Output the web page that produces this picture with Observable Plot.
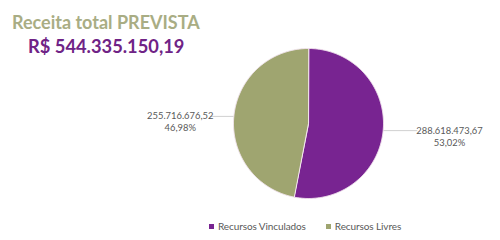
<!DOCTYPE html>
<html><head><meta charset="utf-8">
<script src="https://cdn.jsdelivr.net/npm/d3@7"></script>
<script src="https://cdn.jsdelivr.net/npm/@observablehq/plot@0.6"></script>
<style>
body{margin:0;background:#fff;}
#wrap{position:relative;width:500px;height:240px;overflow:hidden;font-family:Lato,"Open Sans",sans-serif;}
#t1{position:absolute;left:12px;top:11px;font-size:18px;font-weight:bold;color:#a9ad84;white-space:nowrap;}
#t2{position:absolute;left:28px;top:35px;font-size:18.3px;font-weight:bold;color:#6f2386;white-space:nowrap;}
#leg{position:absolute;left:209px;top:220px;font-size:10px;letter-spacing:-0.1px;color:#595959;white-space:nowrap;display:flex;gap:20px;}
#leg span.sw{display:inline-block;width:5px;height:5px;margin-right:4px;vertical-align:1px;}
#chart{position:absolute;left:0;top:0;}
</style></head>
<body><div id="wrap"><div id="chart"></div><div id="t1"></div><div id="t2"></div><div id="leg"></div></div>
<script>
const titleText = "Receita total PREVISTA";
const totalText = "R$ 544.335.150,19";
const categories = ["Recursos Vinculados", "Recursos Livres"];
const values = [288618473.67, 255716676.52];
const valueLabels = ["288.618.473,67", "255.716.676,52"];
const percentLabels = ["53,02%", "46,98%"];
const colors = ["#782491", "#9fa570"];

document.getElementById("t1").textContent = titleText;
document.getElementById("t2").textContent = totalText;
const leg = document.getElementById("leg");
categories.forEach((c, i) => {
  const d = document.createElement("div");
  d.innerHTML = `<span class="sw" style="background:${colors[i]}"></span>${c}`;
  leg.appendChild(d);
});

const arcs = d3.pie().sort(null).value(d => d.value)(categories.map((c, i) => ({key: c, value: values[i], i})));
const poly = [];
arcs.forEach(a => {
  const n = Math.max(2, Math.ceil((a.endAngle - a.startAngle) / 0.01));
  poly.push({key: a.data.key, x: 0, y: 0});
  for (let k = 0; k <= n; k++) {
    const t = a.startAngle + (a.endAngle - a.startAngle) * k / n;
    poly.push({key: a.data.key, x: Math.sin(t), y: Math.cos(t)});
  }
});
const leaders = [], labels = [];
arcs.forEach(a => {
  const m = (a.startAngle + a.endAngle) / 2;
  const sx = Math.sin(m), sy = Math.cos(m);
  const side = sx >= 0 ? 1 : -1;
  leaders.push({x1: sx, y1: sy, x2: side * (side > 0 ? 1.45 : 1.31), y2: sy});
  labels.push({x: side > 0 ? 1.88 : -1.71, y: sy, text: valueLabels[a.data.i] + "\n" + percentLabels[a.data.i]});
});

const chart = Plot.plot({
  width: 500, height: 240,
  marginLeft: 233, marginRight: 117, marginTop: 48, marginBottom: 42,
  x: {domain: [-1, 1], axis: null},
  y: {domain: [-1, 1], axis: null},
  color: {domain: categories, range: colors},
  style: {fontFamily: "Lato, 'Open Sans', sans-serif", background: "transparent"},
  marks: [
    Plot.link(leaders, {x1: "x1", y1: "y1", x2: "x2", y2: "y2", stroke: "#d0d0d0", strokeWidth: 1}),
    Plot.line(poly, {x: "x", y: "y", z: "key", fill: "key", stroke: "#f4e6f0", strokeWidth: 1, curve: "linear-closed"}),
    Plot.text(labels, {x: "x", y: "y", text: "text", fill: "#595959", fontSize: 9.4, lineHeight: 1.27, lineAnchor: "top", dy: -5.5})
  ]
});
document.getElementById("chart").appendChild(chart);
</script></body></html>
